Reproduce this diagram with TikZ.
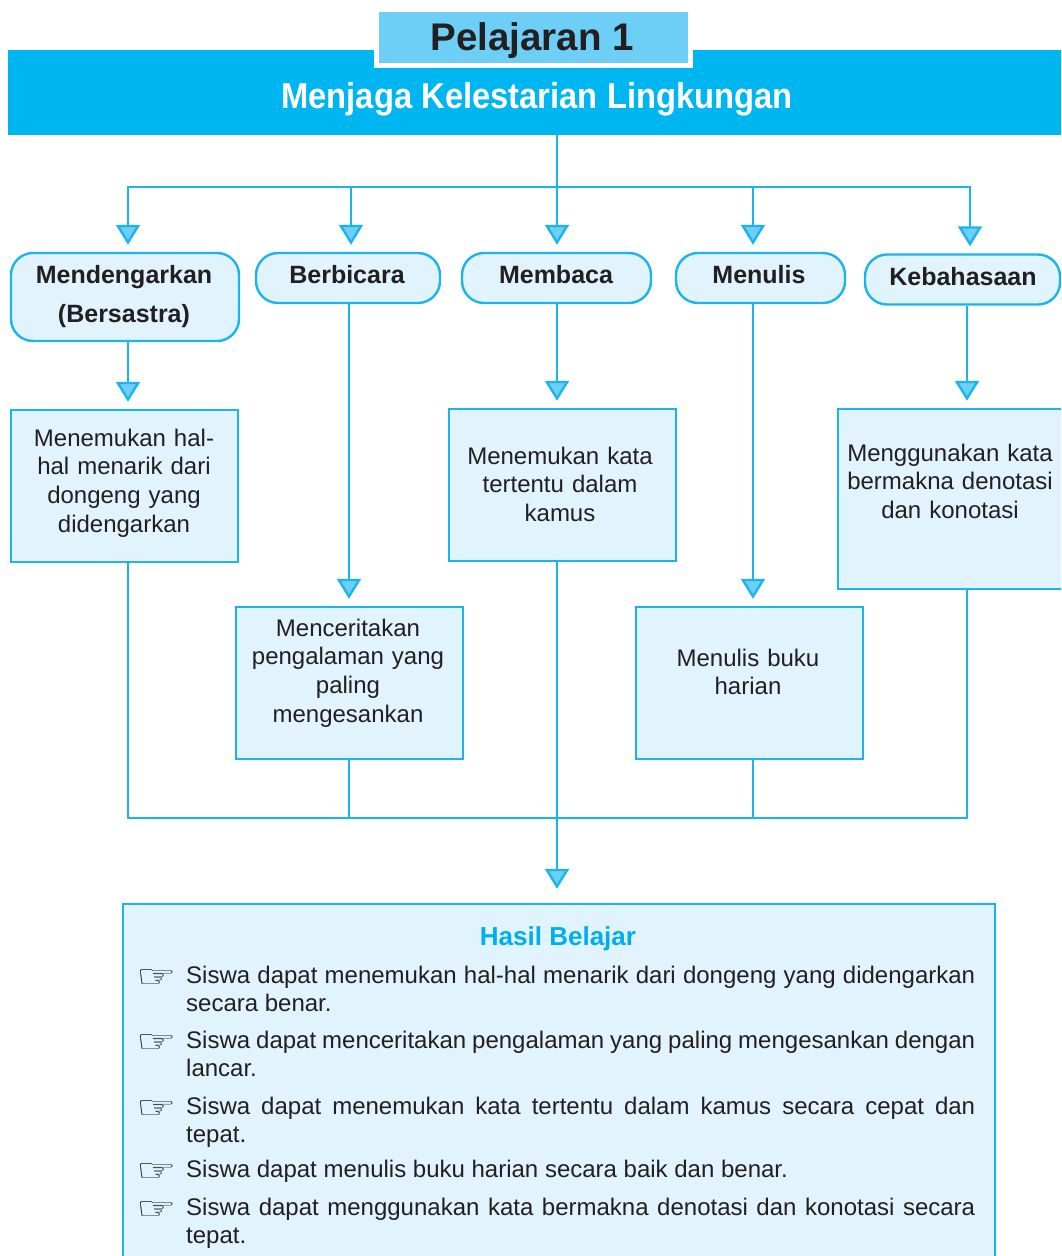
\documentclass[tikz,border=0pt]{standalone}
\usepackage{fontspec}
\setmainfont{Liberation Sans}
\newfontfamily\handfont{DejaVu Sans}
\newfontfamily\narrowfont[FakeStretch=0.91]{Liberation Sans}
\usetikzlibrary{arrows.meta}

\definecolor{bannerblue}{HTML}{00B6F0}
\definecolor{lineblue}{HTML}{1CB4EC}
\definecolor{palefill}{HTML}{E1F3FC}
\definecolor{tabfill}{HTML}{6DCFF6}
\definecolor{ink}{HTML}{231F20}
\definecolor{headblue}{HTML}{00AEEF}

\tikzset{
  flow/.style={draw=lineblue, line width=2.4pt},
  arr/.style={flow, shorten >=7pt, -{Triangle[width=24pt,length=20pt,fill=tabfill]}},
  topic/.style={draw=lineblue, line width=2.4pt, fill=palefill, rounded corners=22pt, inner sep=0pt},
  detail/.style={draw=lineblue, line width=2.4pt, fill=palefill, inner sep=0pt},
  topiclabel/.style={anchor=base, inner sep=0pt, text=ink, align=center,
    font=\fontsize{25}{39}\selectfont\bfseries},
  detaillabel/.style={anchor=base, inner sep=0pt, text=ink, align=center,
    font=\fontsize{24}{28.7}\selectfont},
  item/.style={anchor=base west, inner sep=0pt, text=ink, text width=789pt, align=justify,
    font=\fontsize{24}{28.3}\selectfont},
  hand/.style={anchor=base, inner sep=0pt, text=ink, font=\handfont\fontsize{30}{30}\selectfont},
}
\newcommand{\pointer}{\scalebox{1.5}[1.05]{☞}}

\begin{document}
\begin{tikzpicture}[x=1pt,y=-1pt]
\clip (0,0) rectangle (1061,1256);
\fill[white] (0,0) rectangle (1061,1256);

% title banner and lesson tab
\node[fill=bannerblue, minimum width=1064pt, minimum height=85pt, inner sep=0pt] (banner) at (540,92.5) {};
\node[fill=tabfill, draw=white, line width=5pt, minimum width=314pt, minimum height=56pt, inner sep=0pt] (tab) at (533,37.5) {};
\node[anchor=base, inner sep=0pt, text=ink, font=\fontsize{38.5}{38}\selectfont\bfseries] (tabtext) at (532,50) {Pelajaran 1};
\node[anchor=base, inner sep=0pt, text=white, font=\narrowfont\fontsize{36}{36}\selectfont\bfseries] (title) at (537,108) {Menjaga Kelestarian Lingkungan};

% skill headings
\node[topic, minimum width=228pt, minimum height=88pt] (mend) at (125,297) {};
\node[topic, minimum width=184pt, minimum height=50pt] (berb) at (348,278) {};
\node[topic, minimum width=189pt, minimum height=50pt] (memb) at (556.5,278) {};
\node[topic, minimum width=169pt, minimum height=50pt] (menu) at (760.5,278) {};
\node[topic, minimum width=195pt, minimum height=50pt] (keba) at (962.5,279.5) {};

\node[topiclabel, text width=220pt] (mendtext) at (124,283) {Mendengarkan\\(Bersastra)};
\node[topiclabel] (berbtext) at (347,283) {Berbicara};
\node[topiclabel] (membtext) at (556,283) {Membaca};
\node[topiclabel] (menutext) at (759,283) {Menulis};
\node[topiclabel] (kebatext) at (963,285) {Kebahasaan};

% competence boxes
\node[detail, minimum width=227pt, minimum height=152pt] (boxA) at (124.5,486) {};
\node[detail, minimum width=227pt, minimum height=152pt] (boxC) at (562.5,485) {};
\node[detail, minimum width=237pt, minimum height=180pt] (boxE) at (956.5,499) {};
\node[detail, minimum width=227pt, minimum height=152pt] (boxB) at (349.5,683) {};
\node[detail, minimum width=227pt, minimum height=152pt] (boxD) at (749.5,683) {};

\node[detaillabel, text width=215pt] (textA) at (124,446) {Menemukan hal-\\hal menarik dari\\dongeng yang\\didengarkan};
\node[detaillabel, text width=215pt] (textC) at (560,464) {Menemukan kata\\tertentu dalam\\kamus};
\node[detaillabel, text width=220pt] (textE) at (950,461) {Menggunakan kata\\bermakna denotasi\\dan konotasi};
\node[detaillabel, text width=215pt] (textB) at (348,636) {Menceritakan\\pengalaman yang\\paling\\mengesankan};
\node[detaillabel, text width=215pt] (textD) at (748,666) {Menulis buku\\harian};

% learning outcomes
\node[detail, minimum width=872pt, minimum height=371pt] (hasil) at (559,1089.5) {};
\node[anchor=base, inner sep=0pt, text=headblue, font=\fontsize{26}{26}\selectfont\bfseries] (hasiltitle) at (558,945) {Hasil Belajar};

\node[hand] (hand1) at (157,987) {\pointer};
\node[item] (item1) at (186,983) {Siswa dapat menemukan hal-hal menarik dari dongeng yang didengarkan\linebreak secara benar.};
\node[hand] (hand2) at (157,1052) {\pointer};
\node[item] (item2) at (186,1048) {Siswa dapat menceritakan pengalaman yang paling mengesankan dengan\linebreak lancar.};
\node[hand] (hand3) at (157,1118) {\pointer};
\node[item] (item3) at (186,1114) {Siswa dapat menemukan kata tertentu dalam kamus secara cepat dan\linebreak tepat.};
\node[hand] (hand4) at (157,1181) {\pointer};
\node[item] (item4) at (186,1177) {Siswa dapat menulis buku harian secara baik dan benar.};
\node[hand] (hand5) at (157,1219) {\pointer};
\node[item] (item5) at (186,1215) {Siswa dapat menggunakan kata bermakna denotasi dan konotasi secara\linebreak tepat.};

% branching from the banner
\coordinate (trunk) at (557,187);
\coordinate (t1) at (128,187);
\coordinate (t2) at (351,187);
\coordinate (t4) at (753,187);
\coordinate (t5) at (970,187);
\draw[flow] (trunk |- banner.south) -- (trunk);
\draw[flow, line cap=rect] (t1) -- (t5);
\draw[arr] (t1) -- (t1 |- mend.north);
\draw[arr] (t2) -- (t2 |- berb.north);
\draw[arr] (trunk) -- (trunk |- memb.north);
\draw[arr] (t4) -- (t4 |- menu.north);
\draw[arr] (t5) -- (t5 |- keba.north);

% headings to competences
\coordinate (c1) at (128,0);
\coordinate (c2) at (349,0);
\coordinate (c3) at (557,0);
\coordinate (c4) at (753,0);
\coordinate (c5) at (967,0);
\draw[arr] (c1 |- mend.south) -- (c1 |- boxA.north);
\draw[arr] (c2 |- berb.south) -- (c2 |- boxB.north);
\draw[arr] (c3 |- memb.south) -- (c3 |- boxC.north);
\draw[arr] (c4 |- menu.south) -- (c4 |- boxD.north);
\draw[arr] (c5 |- keba.south) -- (c5 |- boxE.north);

% gathering into the outcomes
\coordinate (g1) at (128,818);
\coordinate (g2) at (349,818);
\coordinate (g4) at (753,818);
\coordinate (g5) at (967,818);
\draw[flow] (g1 |- boxA.south) -- (g1);
\draw[flow] (g2 |- boxB.south) -- (g2);
\draw[flow] (g4 |- boxD.south) -- (g4);
\draw[flow] (g5 |- boxE.south) -- (g5);
\draw[flow, line cap=rect] (g1) -- (g5);
\draw[arr, shorten >=14pt] (c3 |- boxC.south) -- (c3 |- hasil.north);
\end{tikzpicture}
\end{document}
